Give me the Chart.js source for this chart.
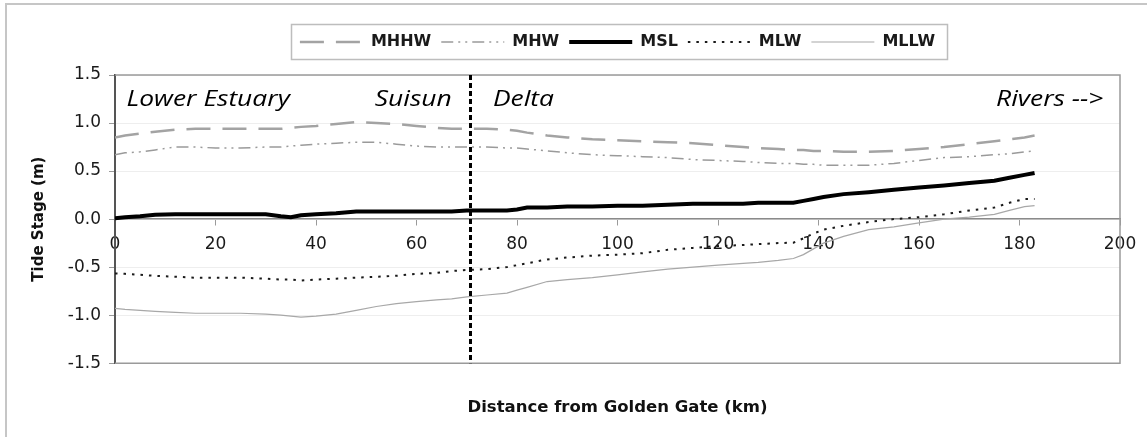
<!DOCTYPE html>
<html>
<head>
<meta charset="utf-8">
<title>Tide stage along the estuary</title>
<script src="https://cdn.jsdelivr.net/npm/chart.js@4.4.1/dist/chart.umd.min.js"></script>
<style>
  html, body { margin: 0; padding: 0; background: #fff; }
  #wrap { width: 1147px; height: 437px; }
</style>
</head>
<body>
<div id="wrap"><canvas id="tide" width="1147" height="437"></canvas></div>
<script>
// Distance from the Golden Gate (km) at which each tidal datum is sampled
const distanceKm = [0, 2, 5, 8, 12, 16, 20, 25, 30, 33, 35, 37, 40, 44, 48, 52, 56, 60, 64, 67,
  70, 74, 78, 80, 82, 86, 90, 95, 100, 105, 110, 115, 120, 125, 128, 132, 135, 137, 139, 141,
  145, 150, 155, 160, 165, 170, 175, 178, 181, 183];

// Tidal datums (m)
const mhhw = [0.85, 0.87, 0.89, 0.91, 0.93, 0.94, 0.94, 0.94, 0.94, 0.94, 0.95, 0.96, 0.97, 0.99, 1.01, 1.00, 0.99, 0.97, 0.95, 0.94,
  0.94, 0.94, 0.93, 0.92, 0.90, 0.87, 0.85, 0.83, 0.82, 0.81, 0.80, 0.79, 0.77, 0.75, 0.74, 0.73, 0.72, 0.72, 0.71, 0.71,
  0.70, 0.70, 0.71, 0.73, 0.75, 0.78, 0.81, 0.83, 0.85, 0.87];
const mhw = [0.67, 0.69, 0.70, 0.72, 0.75, 0.75, 0.74, 0.74, 0.75, 0.75, 0.76, 0.77, 0.78, 0.79, 0.80, 0.80, 0.78, 0.76, 0.75, 0.75,
  0.75, 0.75, 0.74, 0.74, 0.73, 0.71, 0.69, 0.67, 0.66, 0.65, 0.64, 0.62, 0.61, 0.60, 0.59, 0.58, 0.58, 0.57, 0.57, 0.56,
  0.56, 0.56, 0.58, 0.61, 0.64, 0.65, 0.67, 0.68, 0.70, 0.71];
const msl = [0.01, 0.02, 0.03, 0.045, 0.05, 0.05, 0.05, 0.05, 0.05, 0.03, 0.02, 0.04, 0.05, 0.06, 0.08, 0.08, 0.08, 0.08, 0.08, 0.08,
  0.09, 0.09, 0.09, 0.10, 0.12, 0.12, 0.13, 0.13, 0.14, 0.14, 0.15, 0.16, 0.16, 0.16, 0.17, 0.17, 0.17, 0.19, 0.21, 0.23,
  0.26, 0.28, 0.305, 0.33, 0.35, 0.375, 0.40, 0.43, 0.46, 0.48];
const mlw = [-0.565, -0.57, -0.58, -0.59, -0.60, -0.61, -0.61, -0.61, -0.62, -0.63, -0.63, -0.64, -0.63, -0.62, -0.61, -0.60, -0.59, -0.57, -0.56, -0.54,
  -0.53, -0.52, -0.50, -0.48, -0.46, -0.42, -0.40, -0.38, -0.37, -0.355, -0.32, -0.30, -0.28, -0.27, -0.26, -0.25, -0.245, -0.20, -0.15, -0.11,
  -0.07, -0.03, 0.00, 0.02, 0.05, 0.09, 0.12, 0.17, 0.21, 0.21];
const mllw = [-0.93, -0.94, -0.95, -0.96, -0.97, -0.98, -0.98, -0.98, -0.99, -1.00, -1.01, -1.02, -1.01, -0.99, -0.95, -0.91, -0.88, -0.86, -0.84, -0.83,
  -0.81, -0.79, -0.77, -0.74, -0.71, -0.65, -0.63, -0.61, -0.58, -0.55, -0.52, -0.50, -0.48, -0.46, -0.45, -0.43, -0.41, -0.37, -0.31, -0.25,
  -0.18, -0.11, -0.08, -0.04, 0.00, 0.02, 0.05, 0.09, 0.13, 0.14];

// Axis ticks
const xTickValues = [0, 20, 40, 60, 80, 100, 120, 140, 160, 180, 200];
const yTickValues = [-1.5, -1.0, -0.5, 0.0, 0.5, 1.0, 1.5];

// Region names along the profile, and the Suisun / Delta boundary
const regionNames = ['Lower Estuary', 'Suisun', 'Delta', 'Rivers -->'];
const regionKm = [2.3, 51.7, 75.2, 196.7];
const regionAlign = ['left', 'left', 'left', 'right'];
const regionStage = 1.18;
const boundaryKm = [70.6];

const toPoints = (vals) => vals.map((v, i) => ({ x: distanceKm[i], y: v }));

function lineSet(label, vals, color, width, dash) {
  return {
    label: label,
    data: toPoints(vals),
    borderColor: color,
    backgroundColor: color,
    borderWidth: width,
    borderDash: dash,
    borderCapStyle: 'butt',
    pointRadius: 0,
    pointHoverRadius: 0,
    pointStyle: 'line',
    tension: 0,
    fill: false
  };
}

// White page with the light outline on the top and left edges
const pageFrame = {
  id: 'pageFrame',
  beforeDraw(chart) {
    const { ctx, width, height } = chart;
    ctx.save();
    ctx.fillStyle = '#ffffff';
    ctx.fillRect(0, 0, width, height);
    ctx.strokeStyle = '#c6c6c6';
    ctx.lineWidth = 2;
    ctx.beginPath();
    ctx.moveTo(width, 4);
    ctx.lineTo(6, 4);
    ctx.lineTo(6, height);
    ctx.stroke();
    ctx.restore();
  }
};

// Extra space under the legend, and a box drawn round the legend items
const legendBox = {
  id: 'legendBox',
  beforeInit(chart) {
    const legend = chart.legend;
    if (!legend) return;
    const fit = legend.fit;
    legend.fit = function () {
      fit.call(this);
      this.boxBottomOffset = this.height;
      this.height += 15;
    };
  },
  afterDraw(chart) {
    const legend = chart.legend;
    if (!legend || !legend.legendHitBoxes.length) return;
    const hb = legend.legendHitBoxes;
    const left = Math.min(...hb.map(h => h.left)) - 9;
    const right = Math.max(...hb.map(h => h.left + h.width)) + 12;
    const top = legend.top;
    const bottom = legend.top + legend.boxBottomOffset - 1;
    const { ctx } = chart;
    ctx.save();
    ctx.strokeStyle = '#bdbdbd';
    ctx.lineWidth = 1.5;
    ctx.strokeRect(Math.round(left) + 0.5, Math.round(top) + 0.5, Math.round(right - left), Math.round(bottom - top));
    ctx.restore();
  }
};

// Grey frame on the top, right and bottom of the plot area
const plotFrame = {
  id: 'plotFrame',
  beforeDatasetsDraw(chart) {
    const { ctx, chartArea: a } = chart;
    ctx.save();
    ctx.strokeStyle = '#9a9a9a';
    ctx.lineWidth = 1.5;
    ctx.beginPath();
    ctx.moveTo(a.left, a.top);
    ctx.lineTo(a.right, a.top);
    ctx.lineTo(a.right, a.bottom);
    ctx.lineTo(a.left, a.bottom);
    ctx.stroke();
    ctx.restore();
  }
};

// Region boundary and region names
const regions = {
  id: 'regions',
  afterDatasetsDraw(chart) {
    const { ctx, chartArea: a, scales } = chart;
    const xs = scales.x, ys = scales.y;
    ctx.save();
    ctx.strokeStyle = '#000';
    ctx.lineWidth = 3;
    ctx.setLineDash([5, 3]);
    boundaryKm.forEach(km => {
      const px = Math.round(xs.getPixelForValue(km)) + 0.5;
      ctx.beginPath();
      ctx.moveTo(px, a.top);
      ctx.lineTo(px, a.bottom);
      ctx.stroke();
    });
    ctx.setLineDash([]);
    ctx.fillStyle = '#000';
    ctx.font = 'italic 22px "Open Sans"';
    ctx.textBaseline = 'alphabetic';
    const py = ys.getPixelForValue(regionStage);
    regionNames.forEach((name, i) => {
      ctx.save();
      ctx.translate(xs.getPixelForValue(regionKm[i]), py);
      ctx.scale(1.2, 1);
      ctx.textAlign = regionAlign[i];
      ctx.fillText(name, 0, 0);
      ctx.restore();
    });
    ctx.restore();
  }
};

function draw() {
  Chart.defaults.font.family = '"DejaVu Sans", sans-serif';
  Chart.defaults.color = '#1a1a1a';

  new Chart(document.getElementById('tide'), {
    type: 'line',
    data: {
      datasets: [
        lineSet('MHHW', mhhw, '#a3a3a3', 2.5, [24, 12]),
        lineSet('MHW', mhw, '#9a9a9a', 1.5, [12, 5, 2, 5, 2, 5]),
        lineSet('MSL', msl, '#000000', 4, []),
        lineSet('MLW', mlw, '#1a1a1a', 2, [2.5, 6]),
        lineSet('MLLW', mllw, '#a8a8a8', 1.2, [])
      ]
    },
    options: {
      responsive: false,
      animation: false,
      events: [],
      layout: { padding: { left: 10, right: 27, top: 24, bottom: 9 } },
      plugins: {
        legend: {
          display: true,
          position: 'top',
          fullSize: false,
          labels: {
            usePointStyle: true,
            pointStyle: 'line',
            pointStyleWidth: 63,
            padding: 10,
            color: '#1a1a1a',
            font: { size: 16, weight: 'bold' },
            generateLabels(chart) {
              const items = Chart.defaults.plugins.legend.labels.generateLabels(chart);
              items.forEach(item => {
                const ds = chart.data.datasets[item.datasetIndex];
                item.lineDash = ds.borderDash;
                item.lineWidth = ds.borderWidth;
                item.strokeStyle = ds.borderColor;
                item.lineCap = 'butt';
              });
              return items;
            }
          }
        },
        tooltip: { enabled: false }
      },
      scales: {
        x: {
          type: 'linear',
          position: { y: 0 },
          min: 0,
          max: 200,
          afterBuildTicks: (s) => { s.ticks = xTickValues.map(v => ({ value: v })); },
          ticks: {
            autoSkip: false,
            maxRotation: 0,
            padding: 9,
            color: '#1a1a1a',
            font: { size: 17 },
            callback: (v) => String(v)
          },
          grid: {
            drawOnChartArea: false,
            drawTicks: true,
            tickLength: 6,
            tickColor: '#9a9a9a'
          },
          border: { display: true, color: '#8a8a8a', width: 1.5 }
        },
        xTitle: {
          type: 'linear',
          position: 'bottom',
          min: 0,
          max: 200,
          ticks: { display: false },
          grid: { display: false },
          border: { display: false },
          title: {
            display: true,
            text: 'Distance from Golden Gate (km)',
            color: '#111',
            font: { size: 16.5, weight: 'bold' },
            padding: { top: 27, bottom: 10 }
          }
        },
        y: {
          type: 'linear',
          position: 'left',
          min: -1.5,
          max: 1.5,
          afterBuildTicks: (s) => { s.ticks = yTickValues.map(v => ({ value: v })); },
          afterFit: (s) => { s.width = 105; },
          ticks: {
            padding: 8,
            color: '#1a1a1a',
            font: { size: 17 },
            callback: (v) => Number(v).toFixed(1)
          },
          grid: {
            color: '#eeeeee',
            lineWidth: 1,
            drawTicks: true,
            tickLength: 6,
            tickColor: '#9a9a9a'
          },
          border: { display: true, color: '#555555', width: 2 },
          title: {
            display: true,
            text: 'Tide Stage (m)',
            color: '#111',
            font: { size: 15, weight: 'bold' },
            padding: { top: 20, bottom: 0 }
          }
        }
      }
    },
    plugins: [pageFrame, legendBox, plotFrame, regions]
  });
}

const fontLoads = [
  'italic 22px "Open Sans"',
  'bold 15px "DejaVu Sans"',
  '17px "DejaVu Sans"'
].map(f => document.fonts.load(f).catch(() => null));
Promise.all(fontLoads).then(draw, draw);
</script>
</body>
</html>
